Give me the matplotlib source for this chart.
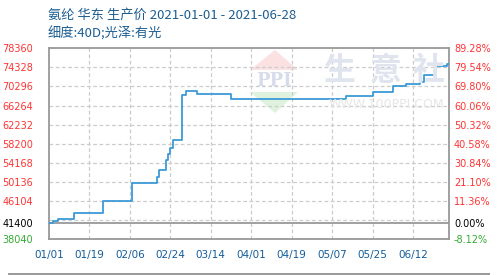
import matplotlib
matplotlib.use("Agg")
import matplotlib.pyplot as plt
import matplotlib.dates as mdates
from matplotlib.lines import Line2D
from matplotlib.patches import Polygon
import numpy as np
import pandas as pd

# ---- data (step change points) ----
change_dates = ["2021-01-01", "2021-01-03", "2021-01-05", "2021-01-12", "2021-01-25",
                "2021-02-07", "2021-02-18", "2021-02-19", "2021-02-22", "2021-02-23",
                "2021-02-24", "2021-02-25", "2021-03-01", "2021-03-03", "2021-03-08",
                "2021-03-23", "2021-05-13", "2021-05-25", "2021-06-03", "2021-06-09",
                "2021-06-15", "2021-06-17", "2021-06-22", "2021-06-27", "2021-06-28"]
prices = [41400, 41820, 42370, 43510, 46170,
          49840, 51230, 52640, 54750, 56000,
          57220, 58970, 68520, 69370, 68600,
          67550, 68250, 69090, 70460, 70880,
          71260, 72780, 74680, 75000, 75000]

base_value = 41400
y_min, y_max = 38040, 78360
left_ticks = [38040, 41400, 46104, 50136, 54168, 58200, 62232, 66264, 70296, 74328, 78360]
right_labels = ["-8.12%", "0.00%", "11.36%", "21.10%", "30.84%", "40.58%",
                "50.32%", "60.06%", "69.80%", "79.54%", "89.28%"]
grid_values = [42072, 46104, 50136, 54168, 58200, 62232, 66264, 70296, 74328]
x_tick_labels = ["01/01", "01/19", "02/06", "02/24", "03/14", "04/01",
                 "04/19", "05/07", "05/25", "06/12"]
x_tick_dates = ["2021-01-01", "2021-01-19", "2021-02-06", "2021-02-24", "2021-03-14",
                "2021-04-01", "2021-04-19", "2021-05-07", "2021-05-25", "2021-06-12"]
title_line1 = "氨纶 华东 生产价 2021-01-01 - 2021-06-28"
title_line2 = "细度:40D;光泽:有光"

# ---- figure ----
W, H = 498, 275
PX = 72 / 100  # points per pixel
fig = plt.figure(figsize=(W / 100, H / 100), dpi=100)
ax = fig.add_axes([49 / W, 1 - 239 / H, 400 / W, (239 - 48.3) / H])

dates = pd.to_datetime(change_dates)
xstart = mdates.date2num(pd.Timestamp("2021-01-01"))
xend = mdates.date2num(pd.Timestamp("2021-06-28"))
ax.set_xlim(xstart, xend)
ax.set_ylim(y_min, y_max)

# watermark
wm_color = "#dfe4ee"
tri_top = Polygon([[(250 - 49) / 400, (239 - 70) / 190.7], [(298 - 49) / 400, (239 - 70) / 190.7],
                   [(275 - 49) / 400, (239 - 50) / 190.7]], closed=True,
                  transform=ax.transAxes, facecolor="#fbe1e1", edgecolor="none", zorder=0)
tri_bot = Polygon([[(250 - 49) / 400, (239 - 92) / 190.7], [(298 - 49) / 400, (239 - 92) / 190.7],
                   [(275 - 49) / 400, (239 - 113) / 190.7]], closed=True,
                  transform=ax.transAxes, facecolor="#def2de", edgecolor="none", zorder=0)
ax.add_patch(tri_top)
ax.add_patch(tri_bot)
fig.text(274 / W, 1 - 80.5 / H, "PPI", ha="center", va="center", fontsize=13,
         fontweight="bold", color="#d6dcea", family="DejaVu Serif", zorder=0)
for ch, cx in zip("生意社", [339, 386, 429]):
    fig.text(cx / W, 1 - 71 / H, ch, ha="center", va="center", fontsize=23,
             color=wm_color, family=["Noto Sans CJK SC"], fontweight="bold", zorder=0)
fig.text(386 / W, 1 - 105 / H, "WWW.100PPI.COM", ha="center", va="center", fontsize=9,
         color="#e6e6e6", family="DejaVu Sans", zorder=0)

# grid
for gv in grid_values:
    ax.axhline(gv, color="#cccccc", lw=0.9, ls=(0, (3, 2)), zorder=1)
for d in x_tick_dates[1:]:
    ax.axvline(mdates.date2num(pd.Timestamp(d)), color="#cccccc", lw=0.9, ls=(0, (3, 2)), zorder=1)
ax.axhline(base_value, color="#999999", lw=1.3, zorder=2)

# line
ax.plot(dates, prices, drawstyle="steps-post", color="#3c9ad8", lw=1.3, zorder=3)

# spines
for s in ax.spines.values():
    s.set_color("#999999")
    s.set_linewidth(1.3)

def lab_color(v):
    if v > base_value:
        return "#ff3333"
    if v == base_value:
        return "#000000"
    return "#33aa33"

# left ticks
ax.set_yticks(left_ticks)
ax.set_yticklabels([str(v) for v in left_ticks])
ax.tick_params(axis="y", length=0, pad=16 * PX, labelsize=7)
for lab, v in zip(ax.get_yticklabels(), left_ticks):
    lab.set_color(lab_color(v))

# right ticks
ax2 = ax.twinx()
ax2.set_ylim(y_min, y_max)
ax2.set_yticks(left_ticks)
ax2.set_yticklabels(right_labels)
ax2.tick_params(axis="y", length=0, pad=5 * PX, labelsize=7)
for lab, v in zip(ax2.get_yticklabels(), left_ticks):
    lab.set_color(lab_color(v))
for s in ax2.spines.values():
    s.set_visible(False)

# x ticks
ax.set_xticks([mdates.date2num(pd.Timestamp(d)) for d in x_tick_dates])
ax.set_xticklabels(x_tick_labels)
ax.tick_params(axis="x", length=0, pad=11 * PX, labelsize=7.5, labelcolor="#125c9a")

# title
fig.text(48 / W, 1 - 15 / H, title_line1, ha="left", va="center", fontsize=9.5,
         color="#1c5d91", family=["Noto Sans CJK SC", "DejaVu Sans"])
fig.text(48 / W, 1 - 34 / H, title_line2, ha="left", va="center", fontsize=9.5,
         color="#1c5d91", family=["Noto Sans CJK SC", "DejaVu Sans"])

# bottom rule
fig.add_artist(Line2D([9 / W, 489 / W], [1 - 274 / H, 1 - 274 / H], color="#999999", lw=1.4))

fig.savefig("out.png", dpi=100)
